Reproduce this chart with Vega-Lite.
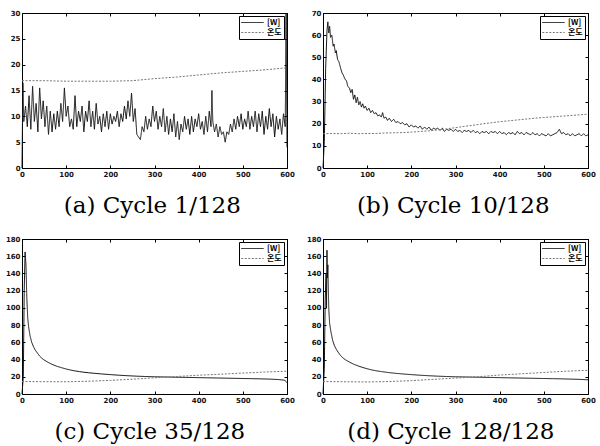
{
  "$schema": "https://vega.github.io/schema/vega-lite/v6.json",
  "background": "white",
  "padding": {"left": 4, "top": 8, "right": 2, "bottom": 0},
  "columns": 2,
  "spacing": {"row": 15, "column": 10},
  "resolve": {
    "scale": {"x": "independent", "y": "independent", "color": "independent", "strokeDash": "independent"},
    "legend": {"color": "independent", "strokeDash": "independent"}
  },
  "datasets": {
    "aw": [
      {"x":0,"y":0},{"x":2,"y":16.5},{"x":4,"y":9},{"x":8,"y":12},{"x":12,"y":8},{"x":16,"y":14},{"x":20,"y":7.5},{"x":24,"y":15.8},{"x":28,"y":9},{"x":32,"y":12.5},{"x":36,"y":7},{"x":40,"y":15.5},{"x":44,"y":9.5},{"x":48,"y":13},{"x":52,"y":8},{"x":56,"y":12},{"x":60,"y":6.5},{"x":64,"y":11},{"x":68,"y":7},{"x":72,"y":10.5},{"x":76,"y":7.5},{"x":80,"y":11},{"x":84,"y":8},{"x":88,"y":12.5},{"x":92,"y":9},{"x":96,"y":15.5},{"x":100,"y":10},{"x":104,"y":12},{"x":108,"y":8},{"x":112,"y":9.5},{"x":116,"y":7.5},{"x":120,"y":14},{"x":124,"y":8},{"x":128,"y":11},{"x":132,"y":9},{"x":136,"y":12},{"x":140,"y":7},{"x":144,"y":11},{"x":148,"y":9},{"x":152,"y":13},{"x":156,"y":8},{"x":160,"y":11},{"x":164,"y":7.5},{"x":168,"y":12.5},{"x":172,"y":8.5},{"x":176,"y":10},{"x":180,"y":7},{"x":184,"y":10.5},{"x":188,"y":8},{"x":192,"y":11},{"x":196,"y":7.5},{"x":200,"y":10.5},{"x":204,"y":8.5},{"x":208,"y":10},{"x":212,"y":9},{"x":216,"y":11},{"x":220,"y":8},{"x":224,"y":10.5},{"x":228,"y":9},{"x":232,"y":12},{"x":236,"y":9.5},{"x":240,"y":13},{"x":244,"y":10},{"x":248,"y":14.5},{"x":252,"y":9},{"x":256,"y":11.5},{"x":260,"y":6.5},{"x":264,"y":6},{"x":268,"y":5.5},{"x":272,"y":8},{"x":276,"y":7},{"x":280,"y":10},{"x":284,"y":7.5},{"x":288,"y":9.5},{"x":292,"y":8},{"x":296,"y":12},{"x":300,"y":9},{"x":304,"y":11},{"x":308,"y":7.5},{"x":312,"y":10},{"x":316,"y":8},{"x":320,"y":11.5},{"x":324,"y":7},{"x":328,"y":10},{"x":332,"y":6.5},{"x":336,"y":9.5},{"x":340,"y":7},{"x":344,"y":10.5},{"x":348,"y":6},{"x":352,"y":9},{"x":356,"y":5.5},{"x":360,"y":8.5},{"x":364,"y":7},{"x":368,"y":10},{"x":372,"y":7.5},{"x":376,"y":9.5},{"x":380,"y":6.5},{"x":384,"y":10},{"x":388,"y":7},{"x":392,"y":9.5},{"x":396,"y":8},{"x":400,"y":10.5},{"x":404,"y":7.5},{"x":408,"y":9},{"x":412,"y":6.5},{"x":416,"y":10},{"x":420,"y":7},{"x":424,"y":11},{"x":428,"y":8},{"x":430,"y":15},{"x":432,"y":9},{"x":436,"y":7},{"x":440,"y":8.5},{"x":444,"y":6},{"x":448,"y":8},{"x":452,"y":6.5},{"x":456,"y":7},{"x":460,"y":5},{"x":464,"y":7},{"x":468,"y":6.5},{"x":472,"y":8.5},{"x":476,"y":7},{"x":480,"y":9.5},{"x":484,"y":7.5},{"x":488,"y":10},{"x":492,"y":8},{"x":496,"y":10.5},{"x":500,"y":7.5},{"x":504,"y":9.5},{"x":508,"y":8},{"x":512,"y":11},{"x":516,"y":7.5},{"x":520,"y":10},{"x":524,"y":8},{"x":528,"y":11},{"x":532,"y":7},{"x":536,"y":10.5},{"x":540,"y":8},{"x":544,"y":11},{"x":548,"y":6.5},{"x":552,"y":10},{"x":556,"y":7.5},{"x":560,"y":11.5},{"x":564,"y":8},{"x":568,"y":10.5},{"x":572,"y":6},{"x":576,"y":10},{"x":580,"y":7.5},{"x":584,"y":9.5},{"x":588,"y":6.5},{"x":592,"y":10.5},{"x":596,"y":8},{"x":598,"y":30},{"x":600,"y":4}
    ],
    "at": [
      {"x":0,"y":16.9},{"x":50,"y":16.9},{"x":100,"y":16.8},{"x":150,"y":16.8},{"x":200,"y":16.8},{"x":250,"y":16.9},{"x":300,"y":17.3},{"x":350,"y":17.6},{"x":400,"y":18.0},{"x":450,"y":18.4},{"x":500,"y":18.7},{"x":550,"y":19.0},{"x":600,"y":19.4}
    ],
    "bw": [
      {"x":0,"y":0},{"x":3,"y":12},{"x":6,"y":45},{"x":9,"y":62},{"x":11,"y":66},{"x":13,"y":61},{"x":15,"y":64},{"x":17,"y":59},{"x":20,"y":60},{"x":23,"y":55},{"x":25,"y":56},{"x":28,"y":52},{"x":30,"y":53},{"x":33,"y":49},{"x":36,"y":48},{"x":40,"y":45},{"x":43,"y":43},{"x":46,"y":42},{"x":50,"y":40},{"x":53,"y":39.5},{"x":56,"y":37},{"x":60,"y":36},{"x":63,"y":34},{"x":66,"y":35.5},{"x":69,"y":31},{"x":72,"y":33},{"x":75,"y":29.5},{"x":78,"y":32},{"x":81,"y":28.5},{"x":84,"y":30},{"x":87,"y":27.5},{"x":90,"y":29},{"x":93,"y":27},{"x":96,"y":28},{"x":100,"y":26},{"x":104,"y":27},{"x":108,"y":25},{"x":112,"y":26},{"x":116,"y":24.5},{"x":120,"y":25},{"x":124,"y":23.5},{"x":128,"y":24},{"x":132,"y":23},{"x":135,"y":25},{"x":138,"y":22.5},{"x":142,"y":23},{"x":146,"y":21.5},{"x":150,"y":22.5},{"x":155,"y":21},{"x":160,"y":22},{"x":165,"y":20.5},{"x":170,"y":21},{"x":175,"y":20},{"x":180,"y":20.5},{"x":185,"y":19.5},{"x":190,"y":20},{"x":195,"y":18.5},{"x":200,"y":19.5},{"x":205,"y":18.5},{"x":210,"y":19},{"x":215,"y":18},{"x":220,"y":19},{"x":225,"y":17.5},{"x":230,"y":18.5},{"x":235,"y":17.5},{"x":240,"y":18.5},{"x":245,"y":17},{"x":250,"y":18},{"x":255,"y":17.5},{"x":260,"y":18},{"x":265,"y":17},{"x":270,"y":18},{"x":275,"y":16.5},{"x":280,"y":17.5},{"x":285,"y":17},{"x":290,"y":17.5},{"x":295,"y":16.5},{"x":300,"y":17.5},{"x":305,"y":16.5},{"x":310,"y":17},{"x":315,"y":16},{"x":320,"y":17},{"x":325,"y":16.5},{"x":330,"y":17},{"x":335,"y":16},{"x":340,"y":17},{"x":345,"y":16},{"x":350,"y":16.5},{"x":355,"y":15.5},{"x":360,"y":16.5},{"x":365,"y":16},{"x":370,"y":16.5},{"x":375,"y":15.5},{"x":380,"y":16.5},{"x":385,"y":16},{"x":390,"y":16.5},{"x":395,"y":15.5},{"x":400,"y":16.5},{"x":405,"y":15.5},{"x":410,"y":16},{"x":415,"y":15},{"x":420,"y":16},{"x":425,"y":15.5},{"x":430,"y":16},{"x":435,"y":15},{"x":440,"y":16.5},{"x":445,"y":15.5},{"x":450,"y":16},{"x":455,"y":15},{"x":460,"y":16},{"x":465,"y":15.5},{"x":470,"y":15},{"x":475,"y":16},{"x":480,"y":15},{"x":485,"y":15.5},{"x":490,"y":14.5},{"x":495,"y":15.5},{"x":500,"y":15},{"x":505,"y":14.5},{"x":510,"y":15.5},{"x":515,"y":14.5},{"x":520,"y":15},{"x":525,"y":15.5},{"x":530,"y":16},{"x":535,"y":17.5},{"x":540,"y":15.5},{"x":545,"y":16},{"x":550,"y":15},{"x":555,"y":15.5},{"x":560,"y":14.5},{"x":565,"y":15.5},{"x":570,"y":14.5},{"x":575,"y":15},{"x":580,"y":15.5},{"x":585,"y":14.5},{"x":590,"y":15.5},{"x":595,"y":14.5},{"x":600,"y":15}
    ],
    "bt": [
      {"x":0,"y":15.5},{"x":20,"y":15.6},{"x":40,"y":15.5},{"x":60,"y":15.7},{"x":80,"y":15.5},{"x":100,"y":15.6},{"x":120,"y":15.6},{"x":140,"y":15.8},{"x":160,"y":15.9},{"x":180,"y":16},{"x":200,"y":16.2},{"x":220,"y":16.5},{"x":240,"y":16.8},{"x":260,"y":17.2},{"x":280,"y":17.7},{"x":300,"y":18.2},{"x":320,"y":18.8},{"x":340,"y":19.3},{"x":360,"y":19.9},{"x":380,"y":20.4},{"x":400,"y":20.9},{"x":420,"y":21.3},{"x":440,"y":21.7},{"x":460,"y":22.1},{"x":480,"y":22.5},{"x":500,"y":22.8},{"x":520,"y":23.1},{"x":540,"y":23.4},{"x":560,"y":23.7},{"x":580,"y":24},{"x":600,"y":24.3}
    ],
    "cw": [
      {"x":0,"y":0},{"x":3,"y":20},{"x":5,"y":120},{"x":7,"y":165},{"x":9,"y":150},{"x":11,"y":110},{"x":13,"y":88},{"x":15,"y":78},{"x":18,"y":68},{"x":22,"y":60},{"x":26,"y":55},{"x":30,"y":51},{"x":35,"y":47.5},{"x":40,"y":44},{"x":45,"y":41.5},{"x":50,"y":39.5},{"x":60,"y":36.5},{"x":70,"y":34},{"x":80,"y":32},{"x":90,"y":30.5},{"x":100,"y":29},{"x":110,"y":27.8},{"x":120,"y":26.8},{"x":130,"y":26},{"x":140,"y":25.3},{"x":150,"y":24.7},{"x":165,"y":24},{"x":180,"y":23.3},{"x":200,"y":22.5},{"x":220,"y":21.8},{"x":240,"y":21.2},{"x":260,"y":20.7},{"x":280,"y":20.3},{"x":300,"y":20},{"x":320,"y":19.8},{"x":340,"y":19.6},{"x":360,"y":19.4},{"x":380,"y":19.2},{"x":400,"y":19},{"x":420,"y":18.8},{"x":440,"y":18.6},{"x":460,"y":18.4},{"x":480,"y":18.2},{"x":500,"y":18},{"x":520,"y":17.8},{"x":540,"y":17.6},{"x":560,"y":17.3},{"x":580,"y":16.8},{"x":595,"y":16},{"x":600,"y":13}
    ],
    "ct": [
      {"x":0,"y":14.5},{"x":50,"y":14.3},{"x":100,"y":14.2},{"x":150,"y":14.8},{"x":200,"y":15.8},{"x":250,"y":17.2},{"x":300,"y":18.8},{"x":350,"y":20.3},{"x":400,"y":21.8},{"x":450,"y":23},{"x":500,"y":24.3},{"x":550,"y":25.5},{"x":600,"y":26.5}
    ],
    "dw": [
      {"x":0,"y":0},{"x":3,"y":30},{"x":5,"y":110},{"x":7,"y":140},{"x":8,"y":100},{"x":9,"y":167},{"x":10,"y":135},{"x":11,"y":150},{"x":13,"y":100},{"x":15,"y":82},{"x":18,"y":72},{"x":22,"y":62},{"x":26,"y":56},{"x":30,"y":52},{"x":35,"y":48},{"x":40,"y":44.5},{"x":45,"y":42},{"x":50,"y":40},{"x":60,"y":37},{"x":70,"y":34.5},{"x":80,"y":32.5},{"x":90,"y":30.8},{"x":100,"y":29.3},{"x":110,"y":28},{"x":120,"y":27},{"x":130,"y":26.2},{"x":140,"y":25.5},{"x":150,"y":24.8},{"x":165,"y":24},{"x":180,"y":23.3},{"x":200,"y":22.5},{"x":220,"y":21.8},{"x":240,"y":21.2},{"x":260,"y":20.7},{"x":280,"y":20.3},{"x":300,"y":20},{"x":320,"y":19.8},{"x":340,"y":19.6},{"x":360,"y":19.4},{"x":380,"y":19.2},{"x":400,"y":19},{"x":420,"y":18.8},{"x":440,"y":18.6},{"x":460,"y":18.4},{"x":480,"y":18.2},{"x":500,"y":18},{"x":520,"y":17.8},{"x":540,"y":17.6},{"x":560,"y":17.3},{"x":580,"y":17},{"x":600,"y":16.5}
    ],
    "dt": [
      {"x":0,"y":14.5},{"x":50,"y":14.2},{"x":100,"y":14},{"x":150,"y":14.5},{"x":200,"y":15.5},{"x":250,"y":17},{"x":300,"y":18.5},{"x":350,"y":20},{"x":400,"y":22},{"x":450,"y":23.5},{"x":500,"y":25},{"x":550,"y":26.5},{"x":600,"y":27.5}
    ]
  },
  "concat": [
    {
      "width": 265, "height": 155,
      "title": "(a) Cycle 1/128",
      "resolve": {"axis": {"x": "independent", "y": "independent"}},
      "layer": [
        {"data": {"name": "aw"}, "mark": {"type": "line", "strokeWidth": 1},
         "encoding": {
           "x": {"field": "x", "type": "quantitative", "scale": {"domain": [0, 600], "nice": false}, "axis": {"values": [0,100,200,300,400,500,600]}},
           "y": {"field": "y", "type": "quantitative", "scale": {"domain": [0, 30], "nice": false}, "axis": {"values": [0,5,10,15,20,25,30]}},
           "color": {"datum": "[W]", "scale": {"domain": ["[W]", "온도"], "range": ["#111111", "#777777"]}, "legend": {"title": null}},
           "strokeDash": {"datum": "[W]", "scale": {"domain": ["[W]", "온도"], "range": [[1, 0], [2, 1.5]]}, "legend": {"title": null}}
         }},
        {"data": {"name": "at"}, "mark": {"type": "line", "strokeWidth": 1},
         "encoding": {
           "x": {"field": "x", "type": "quantitative", "scale": {"domain": [0, 600], "nice": false}, "axis": {"values": [0,100,200,300,400,500,600], "orient": "top", "labels": false}},
           "y": {"field": "y", "type": "quantitative", "scale": {"domain": [0, 30], "nice": false}, "axis": {"values": [0,5,10,15,20,25,30], "orient": "right", "labels": false}},
           "color": {"datum": "온도"},
           "strokeDash": {"datum": "온도"}
         }}
      ]
    },
    {
      "width": 265, "height": 155,
      "title": "(b) Cycle 10/128",
      "resolve": {"axis": {"x": "independent", "y": "independent"}},
      "layer": [
        {"data": {"name": "bw"}, "mark": {"type": "line", "strokeWidth": 1},
         "encoding": {
           "x": {"field": "x", "type": "quantitative", "scale": {"domain": [0, 600], "nice": false}, "axis": {"values": [0,100,200,300,400,500,600]}},
           "y": {"field": "y", "type": "quantitative", "scale": {"domain": [0, 70], "nice": false}, "axis": {"values": [0,10,20,30,40,50,60,70]}},
           "color": {"datum": "[W]", "scale": {"domain": ["[W]", "온도"], "range": ["#111111", "#777777"]}, "legend": {"title": null}},
           "strokeDash": {"datum": "[W]", "scale": {"domain": ["[W]", "온도"], "range": [[1, 0], [2, 1.5]]}, "legend": {"title": null}}
         }},
        {"data": {"name": "bt"}, "mark": {"type": "line", "strokeWidth": 1},
         "encoding": {
           "x": {"field": "x", "type": "quantitative", "scale": {"domain": [0, 600], "nice": false}, "axis": {"values": [0,100,200,300,400,500,600], "orient": "top", "labels": false}},
           "y": {"field": "y", "type": "quantitative", "scale": {"domain": [0, 70], "nice": false}, "axis": {"values": [0,10,20,30,40,50,60,70], "orient": "right", "labels": false}},
           "color": {"datum": "온도"},
           "strokeDash": {"datum": "온도"}
         }}
      ]
    },
    {
      "width": 265, "height": 155,
      "title": "(c) Cycle 35/128",
      "resolve": {"axis": {"x": "independent", "y": "independent"}},
      "layer": [
        {"data": {"name": "cw"}, "mark": {"type": "line", "strokeWidth": 1},
         "encoding": {
           "x": {"field": "x", "type": "quantitative", "scale": {"domain": [0, 600], "nice": false}, "axis": {"values": [0,100,200,300,400,500,600]}},
           "y": {"field": "y", "type": "quantitative", "scale": {"domain": [0, 180], "nice": false}, "axis": {"values": [0,20,40,60,80,100,120,140,160,180]}},
           "color": {"datum": "[W]", "scale": {"domain": ["[W]", "온도"], "range": ["#111111", "#777777"]}, "legend": {"title": null}},
           "strokeDash": {"datum": "[W]", "scale": {"domain": ["[W]", "온도"], "range": [[1, 0], [2, 1.5]]}, "legend": {"title": null}}
         }},
        {"data": {"name": "ct"}, "mark": {"type": "line", "strokeWidth": 1},
         "encoding": {
           "x": {"field": "x", "type": "quantitative", "scale": {"domain": [0, 600], "nice": false}, "axis": {"values": [0,100,200,300,400,500,600], "orient": "top", "labels": false}},
           "y": {"field": "y", "type": "quantitative", "scale": {"domain": [0, 180], "nice": false}, "axis": {"values": [0,20,40,60,80,100,120,140,160,180], "orient": "right", "labels": false}},
           "color": {"datum": "온도"},
           "strokeDash": {"datum": "온도"}
         }}
      ]
    },
    {
      "width": 265, "height": 155,
      "title": "(d) Cycle 128/128",
      "resolve": {"axis": {"x": "independent", "y": "independent"}},
      "layer": [
        {"data": {"name": "dw"}, "mark": {"type": "line", "strokeWidth": 1},
         "encoding": {
           "x": {"field": "x", "type": "quantitative", "scale": {"domain": [0, 600], "nice": false}, "axis": {"values": [0,100,200,300,400,500,600]}},
           "y": {"field": "y", "type": "quantitative", "scale": {"domain": [0, 180], "nice": false}, "axis": {"values": [0,20,40,60,80,100,120,140,160,180]}},
           "color": {"datum": "[W]", "scale": {"domain": ["[W]", "온도"], "range": ["#111111", "#777777"]}, "legend": {"title": null}},
           "strokeDash": {"datum": "[W]", "scale": {"domain": ["[W]", "온도"], "range": [[1, 0], [2, 1.5]]}, "legend": {"title": null}}
         }},
        {"data": {"name": "dt"}, "mark": {"type": "line", "strokeWidth": 1},
         "encoding": {
           "x": {"field": "x", "type": "quantitative", "scale": {"domain": [0, 600], "nice": false}, "axis": {"values": [0,100,200,300,400,500,600], "orient": "top", "labels": false}},
           "y": {"field": "y", "type": "quantitative", "scale": {"domain": [0, 180], "nice": false}, "axis": {"values": [0,20,40,60,80,100,120,140,160,180], "orient": "right", "labels": false}},
           "color": {"datum": "온도"},
           "strokeDash": {"datum": "온도"}
         }}
      ]
    }
  ],
  "config": {
    "view": {"stroke": "black", "strokeWidth": 1},
    "axis": {"grid": false, "title": null, "labelFontSize": 7, "labelFont": "DejaVu Sans", "labelFontWeight": "bold", "labelColor": "#111111", "domainColor": "black", "tickColor": "black", "tickSize": -3, "labelPadding": 5, "labelOverlap": false, "labelFlush": false},
    "title": {"orient": "bottom", "font": "DejaVu Serif", "fontSize": 23, "fontWeight": "normal", "color": "black", "offset": 18, "anchor": "middle", "frame": "bounds"},
    "legend": {"orient": "top-right", "offset": 3, "padding": 2, "strokeColor": "black", "fillColor": "white", "labelFontSize": 8, "labelFont": "Noto Sans CJK KR", "labelFontWeight": "bold", "symbolType": "M-2.8,0H2.8", "symbolSize": 64, "symbolStrokeWidth": 1, "rowPadding": 1, "labelOffset": 10, "symbolOffset": 7}
  }
}
